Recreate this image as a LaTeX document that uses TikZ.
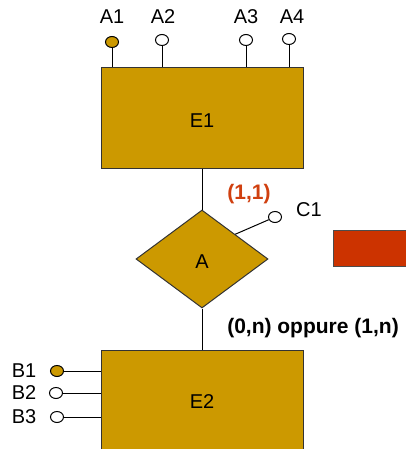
\documentclass[tikz,border=0pt]{standalone}
\usepackage{fontspec}
\setmainfont{Liberation Sans}
\usetikzlibrary{shapes.geometric,calc}
\definecolor{gold}{HTML}{CC9900}
\definecolor{rust}{HTML}{CC3300}
\definecolor{lbl}{HTML}{D04010}
\tikzset{
  ent/.style={draw=black!80, fill=gold, line width=1pt, inner sep=0pt},
  rel/.style={diamond, draw=black!80, fill=gold, line width=1pt, inner sep=0pt, aspect=1.347, minimum width=132pt, minimum height=98pt},
  attr/.style={ellipse, draw=black, line width=1pt, fill=white, inner sep=0pt, minimum width=13pt, minimum height=11pt},
  keyattr/.style={attr, fill=gold},
  conn/.style={line width=1pt, draw=black},
  txt/.style={font=\fontsize{20}{22}\selectfont, inner sep=0pt},
  card/.style={font=\fontsize{21}{23}\selectfont\bfseries, inner sep=0pt}
}
\begin{document}
\begin{tikzpicture}[x=1pt,y=-1pt]
\useasboundingbox (0,0) rectangle (406,449);
\clip (0,0) rectangle (406,449);
% entities
\node[ent, minimum width=202pt, minimum height=100pt] (E1) at (202,118) {};
\node[txt] at (202,121) {E1};
\node[ent, minimum width=202pt, minimum height=120pt] (E2) at (202,410) {};
\node[txt] at (202,402) {E2};
% relationship
\node[rel] (A) at (202,259) {};
\node[txt] at (202,262) {A};
% red rectangle
\node[draw=black!70, fill=rust, line width=0.8pt, minimum width=90pt, minimum height=36pt, inner sep=0pt] (R) at (378,248) {};
% links
\draw[conn] (E1.south) -- (A.north);
\draw[conn] (A.south) -- (E2.north);
% top attributes
\node[keyattr] (a1) at (112,42) {};
\node[attr] (a2) at (162,40) {};
\node[attr] (a3) at (246,40) {};
\node[attr] (a4) at (289,39) {};
\node[txt] at (112,17) {A1};
\node[txt] at (163,17) {A2};
\node[txt] at (246,17) {A3};
\node[txt] at (292,17) {A4};
\foreach \a in {a1,a2,a3,a4} {
  \draw[conn] (\a.south) -- (\a.south |- E1.north);
}
% C1
\coordinate (aC) at ($(A.north)!0.5!(A.east)$);
\node[attr] (c1) at (275,217) {};
\node[txt] at (309,210) {C1};
\draw[conn] (aC) -- (c1);
% cardinalities
\node[card, text=lbl] at (249,194) {(1,1)};
\node[card] at (313,328) {(0,n) oppure (1,n)};
% bottom attributes
\node[keyattr] (b1) at (57,371) {};
\node[attr] (b2) at (56,393) {};
\node[attr] (b3) at (57,417) {};
\node[txt] at (24,371) {B1};
\node[txt] at (24,393) {B2};
\node[txt] at (24,417) {B3};
\foreach \b in {b1,b2,b3} {
  \draw[conn] (\b.east) -- (\b.east -| E2.west);
}
\end{tikzpicture}
\end{document}
